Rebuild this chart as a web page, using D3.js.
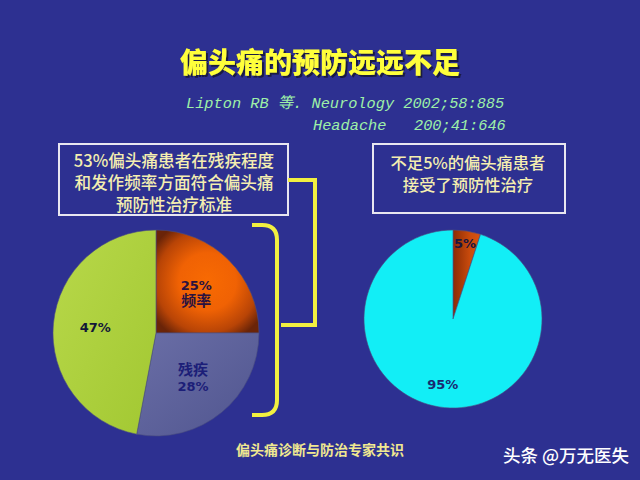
<!DOCTYPE html>
<html><head><meta charset="utf-8">
<script src="https://cdn.jsdelivr.net/npm/d3@7"></script>
<style>html,body{margin:0;padding:0;background:#2d3091;}svg{display:block;}</style>
</head><body>
<script>
const title = "偏头痛的预防远远不足";
const citation = ["Lipton RB 等. Neurology 2002;58:885", "Headache   200;41:646"];
const leftBoxLines = ["53%偏头痛患者在残疾程度", "和发作频率方面符合偏头痛", "预防性治疗标准"];
const rightBoxLines = ["不足5%的偏头痛患者", "接受了预防性治疗"];
const leftCategories = ["频率", "残疾", "其他"];
const leftValues = [25, 28, 47];
const leftLabels = [["25%", "频率"], ["残疾", "28%"], ["47%"]];
const rightCategories = ["接受预防性治疗", "未接受"];
const rightValues = [5, 95];
const rightLabels = [["5%"], ["95%"]];
const footer = "偏头痛诊断与防治专家共识";
const watermark = "头条 @万无医失";

const W = 640, H = 480;
const svg = d3.select("body").append("svg").attr("width", W).attr("height", H);
svg.append("rect").attr("width", W).attr("height", H).attr("fill", "#2d3091");
const defs = svg.append("defs");

function lg(id, stops, x1, y1, x2, y2) {
  const g = defs.append("linearGradient").attr("id", id)
    .attr("x1", x1).attr("y1", y1).attr("x2", x2).attr("y2", y2);
  stops.forEach(s => g.append("stop").attr("offset", s[0]).attr("stop-color", s[1]));
}
function rg(id, stops, cx, cy, r) {
  const g = defs.append("radialGradient").attr("id", id)
    .attr("cx", cx).attr("cy", cy).attr("r", r);
  stops.forEach(s => g.append("stop").attr("offset", s[0]).attr("stop-color", s[1]));
}
rg("orangeL", [[0, "#f86a02"], [0.45, "#f06204"], [0.8, "#b84406"], [1, "#6a2408"]], "0.5", "0.5", "0.62");
lg("blueL", [[0, "#6a6ea6"], [1, "#50558f"]], "0", "0", "1", "1");
lg("greenL", [[0, "#b8d84a"], [1, "#a2c832"]], "0", "0", "1", "1");
lg("orangeR", [[0, "#8a2c06"], [0.6, "#c84a0c"], [1, "#d85410"]], "0", "0", "1", "0");
const sh = defs.append("filter").attr("id", "shadow").attr("x", "-10%").attr("y", "-20%")
  .attr("width", "130%").attr("height", "150%");
sh.append("feDropShadow").attr("dx", 2).attr("dy", 2).attr("stdDeviation", 0.6)
  .attr("flood-color", "#14143a").attr("flood-opacity", 0.9);

// title
svg.append("text").attr("x", 320).attr("y", 73).attr("text-anchor", "middle")
  .attr("font-family", "Noto Sans CJK SC").attr("font-weight", 900).attr("font-size", 28)
  .attr("fill", "#ffff3a").attr("filter", "url(#shadow)").text(title);

// citation
const citeX = [186, 313], citeY = [108, 130];
citation.forEach((t, i) => {
  svg.append("text").attr("x", citeX[i]).attr("y", citeY[i])
    .attr("font-family", "Liberation Mono, Noto Sans CJK SC").attr("font-style", "italic")
    .attr("font-size", 15.3).attr("fill", "#9ef0a8")
    .style("white-space", "pre").text(t);
});

// boxes
function box(x, y, w, h, lines, cx, y0, dy, fs) {
  svg.append("rect").attr("x", x).attr("y", y).attr("width", w).attr("height", h)
    .attr("fill", "none").attr("stroke", "#e8e6f0").attr("stroke-width", 2);
  lines.forEach((t, i) => svg.append("text").attr("x", cx).attr("y", y0 + i * dy)
    .attr("text-anchor", "middle").attr("font-family", "Noto Sans CJK SC").attr("font-weight", 500)
    .attr("font-size", fs).attr("fill", "#f4eeb0").text(t));
}
box(59, 144, 229, 71, leftBoxLines, 174, 167, 22, 16.6);
box(373, 144, 192, 69, rightBoxLines, 468, 169, 22, 16.3);

// connector
svg.append("path").attr("d", "M288,180 H315 V325 H281")
  .attr("fill", "none").attr("stroke", "#f2f040").attr("stroke-width", 4);
// curly bracket
svg.append("path").attr("d", "M252,225 H262 Q277,225 277,240 V400 Q277,415 262,415 H252")
  .attr("fill", "none").attr("stroke", "#f2f040").attr("stroke-width", 4);

const pie = d3.pie().sort(null).value(d => d);

function drawPie(cx, cy, r, values, fills, labels, labelR, colors) {
  const g = svg.append("g").attr("transform", `translate(${cx},${cy})`);
  const arcs = pie(values);
  const arc = d3.arc().innerRadius(0).outerRadius(r);
  g.selectAll("path").data(arcs).join("path").attr("d", arc)
    .attr("fill", (d, i) => fills[i]).attr("stroke", "#4a4e80").attr("stroke-width", 0.6);
  arcs.forEach((d, i) => {
    const [lx, ly] = d3.arc().innerRadius(labelR[i]).outerRadius(labelR[i]).centroid(d);
    const n = labels[i].length;
    labels[i].forEach((t, j) => {
      g.append("text").attr("x", lx).attr("y", ly + (j - (n - 1) / 2) * 16 + 5)
        .attr("text-anchor", "middle")
        .attr("font-family", "DejaVu Sans, Noto Sans CJK SC").attr("font-weight", "bold")
        .attr("font-size", /%/.test(t) ? 13 : 15).attr("fill", colors[i]).text(t);
    });
  });
}
drawPie(156, 333, 103, leftValues, ["url(#orangeL)", "url(#blueL)", "url(#greenL)"],
  leftLabels, [57, 58, 61], ["#2a1240", "#1c1e78", "#141838"]);
drawPie(453, 319, 89, rightValues, ["url(#orangeR)", "#12eef6"],
  rightLabels, [77, 66], ["#1a1640", "#1a2a70"]);

// footer
svg.append("text").attr("x", 320).attr("y", 455).attr("text-anchor", "middle")
  .attr("font-family", "Noto Sans CJK SC").attr("font-weight", "bold").attr("font-size", 14)
  .attr("fill", "#f0e890").text(footer);
svg.append("text").attr("x", 566).attr("y", 462).attr("text-anchor", "middle")
  .attr("font-family", "Noto Sans CJK SC").attr("font-weight", 500).attr("font-size", 17.5)
  .attr("fill", "#ffffff").text(watermark);
</script>
</body></html>
